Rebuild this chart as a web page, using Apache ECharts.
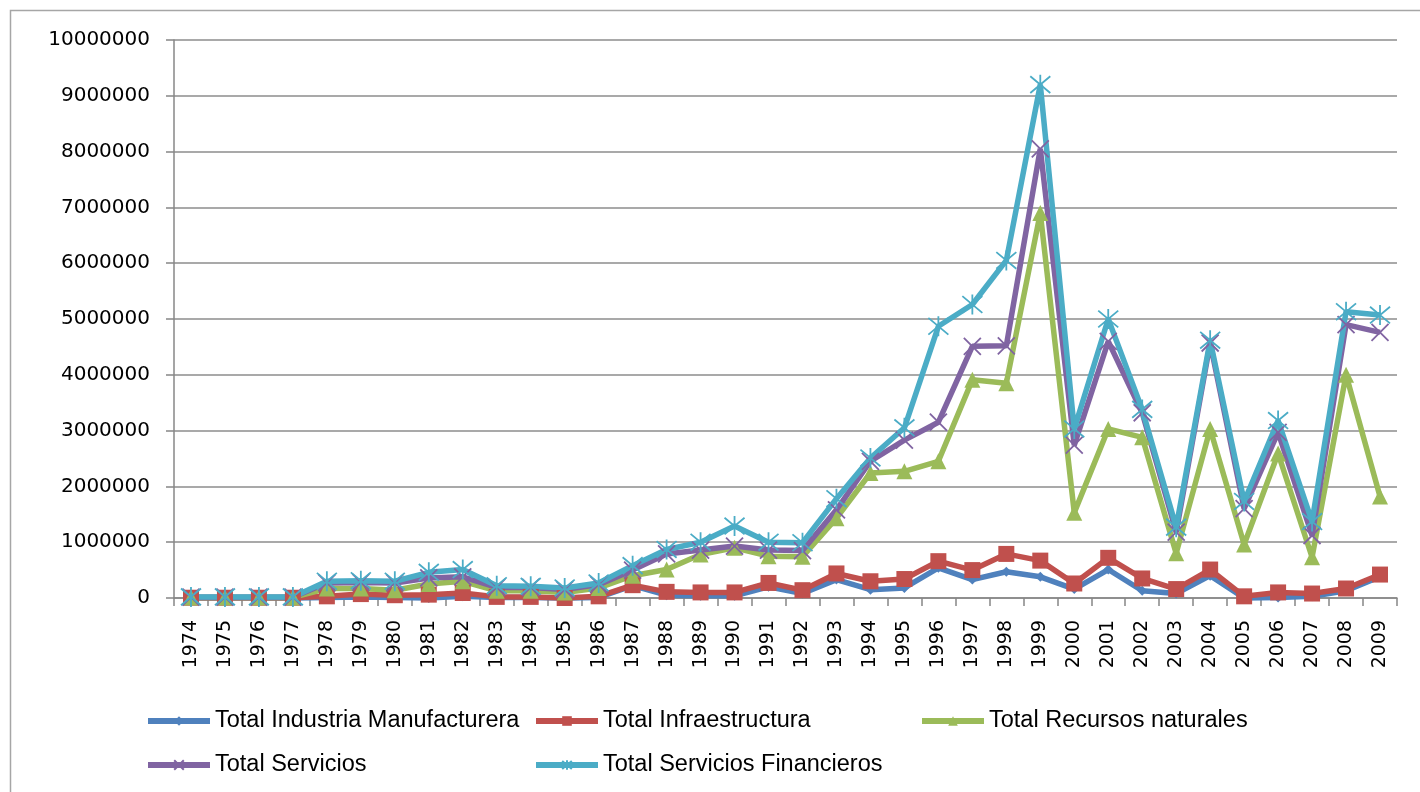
<!DOCTYPE html>
<html>
<head>
<meta charset="utf-8">
<script src="https://cdn.jsdelivr.net/npm/echarts@6/dist/echarts.min.js"></script>
<style>
html,body{margin:0;padding:0;background:#fff;}
#chart{width:1420px;height:792px;}
</style>
</head>
<body>
<div id="chart"></div>
<script>
const years = ['1974','1975','1976','1977','1978','1979','1980','1981','1982','1983','1984','1985','1986','1987','1988','1989','1990','1991','1992','1993','1994','1995','1996','1997','1998','1999','2000','2001','2002','2003','2004','2005','2006','2007','2008','2009'];

const industriaManufacturera = [0,0,0,0,10000,20000,10000,0,30000,10000,10000,0,10000,220000,50000,40000,40000,200000,80000,330000,150000,180000,540000,330000,470000,380000,160000,510000,130000,80000,400000,0,10000,30000,130000,380000];
const infraestructura = [5000,5000,5000,5000,30000,70000,50000,60000,90000,20000,20000,0,30000,230000,110000,100000,100000,270000,140000,440000,300000,340000,660000,500000,790000,670000,260000,720000,350000,160000,510000,30000,100000,80000,170000,420000];
const recursosNaturales = [10000,10000,10000,10000,170000,170000,140000,250000,300000,130000,130000,100000,180000,400000,510000,780000,900000,750000,740000,1430000,2240000,2270000,2450000,3910000,3850000,6900000,1530000,3030000,2880000,800000,3030000,960000,2590000,730000,4000000,1820000];
const servicios = [15000,15000,15000,15000,270000,280000,270000,360000,380000,190000,190000,150000,240000,500000,790000,860000,930000,860000,850000,1580000,2450000,2830000,3150000,4510000,4520000,8050000,2740000,4600000,3320000,1180000,4570000,1600000,2970000,1120000,4900000,4760000];
const serviciosFinancieros = [20000,20000,20000,20000,300000,310000,300000,460000,510000,220000,210000,180000,270000,580000,870000,1000000,1290000,1000000,990000,1780000,2510000,3050000,4870000,5260000,6050000,9200000,3030000,5000000,3380000,1270000,4620000,1730000,3180000,1370000,5130000,5070000];

const seriesNames = ['Total Industria Manufacturera','Total Infraestructura','Total Recursos naturales','Total Servicios','Total Servicios Financieros'];
const yTicks = {min:0, max:10000000, interval:1000000};

const colors = ['#4F81BD','#C0504D','#9BBB59','#8064A2','#4BACC6'];
const dataSets = [industriaManufacturera, infraestructura, recursosNaturales, servicios, serviciosFinancieros];
const symbols = [
  'diamond',
  'rect',
  'triangle',
  'path://M0 0L10 10M10 0L0 10',
  'path://M0 0L10 10M10 0L0 10M5 -1L5 11'
];
const symbolSizes = [10, 16, 16, 17, 20];

const chart = echarts.init(document.getElementById('chart'), null, {renderer:'canvas'});

const series = seriesNames.map((name, i) => {
  const isPath = i >= 3;
  return {
    name: name,
    type: 'line',
    data: dataSets[i],
    symbol: symbols[i],
    symbolSize: symbolSizes[i],
    showAllSymbol: true,
    clip: false,
    lineStyle: {color: colors[i], width: 5.5},
    itemStyle: isPath ? {color: colors[i], borderColor: colors[i], borderWidth: 1.8} : {color: colors[i], borderWidth: 0},
    emphasis: {disabled: true},
    animation: false
  };
});

const legendFont = {fontFamily: 'Liberation Sans, Arial, sans-serif', fontSize: 23.5, color: '#000'};
const legendPos = [[140, 704], [528, 704], [914, 704], [140, 748], [528, 748]];
const legends = seriesNames.map((name, i) => ({
  data: [name],
  left: legendPos[i][0],
  top: legendPos[i][1],
  itemWidth: 62,
  itemHeight: 12,
  itemGap: 0,
  textStyle: legendFont,
  lineStyle: {width: 6},
  selectedMode: false
}));

chart.setOption({
  animation: false,
  backgroundColor: '#fff',
  color: colors,
  graphic: [{
    type: 'rect',
    shape: {x: 10.5, y: 10.5, width: 1430, height: 800},
    style: {fill: 'none', stroke: '#a6a6a6', lineWidth: 1.5},
    silent: true
  }],
  grid: {left: 174, right: 23, top: 40, bottom: 194, containLabel: false},
  legend: legends,
  xAxis: {
    type: 'category',
    data: years,
    boundaryGap: true,
    axisLine: {lineStyle: {color: '#878787', width: 1.5}},
    axisTick: {show: true, length: 8, interval: 0, lineStyle: {color: '#878787', width: 1.5}},
    axisLabel: {rotate: 90, interval: 0, margin: 22, fontFamily: 'DejaVu Sans, Verdana, sans-serif', fontSize: 19, color: '#000'},
    splitLine: {show: false}
  },
  yAxis: {
    type: 'value',
    min: yTicks.min,
    max: yTicks.max,
    interval: yTicks.interval,
    axisLine: {show: true, lineStyle: {color: '#878787', width: 1.5}},
    axisTick: {show: true, length: 8, lineStyle: {color: '#878787', width: 1.5}},
    axisLabel: {margin: 24, fontFamily: 'DejaVu Sans, Verdana, sans-serif', fontSize: 20, color: '#000', formatter: v => String(v)},
    splitLine: {show: true, lineStyle: {color: '#8c8c8c', width: 1.5}}
  },
  series: series
});
</script>
</body>
</html>
